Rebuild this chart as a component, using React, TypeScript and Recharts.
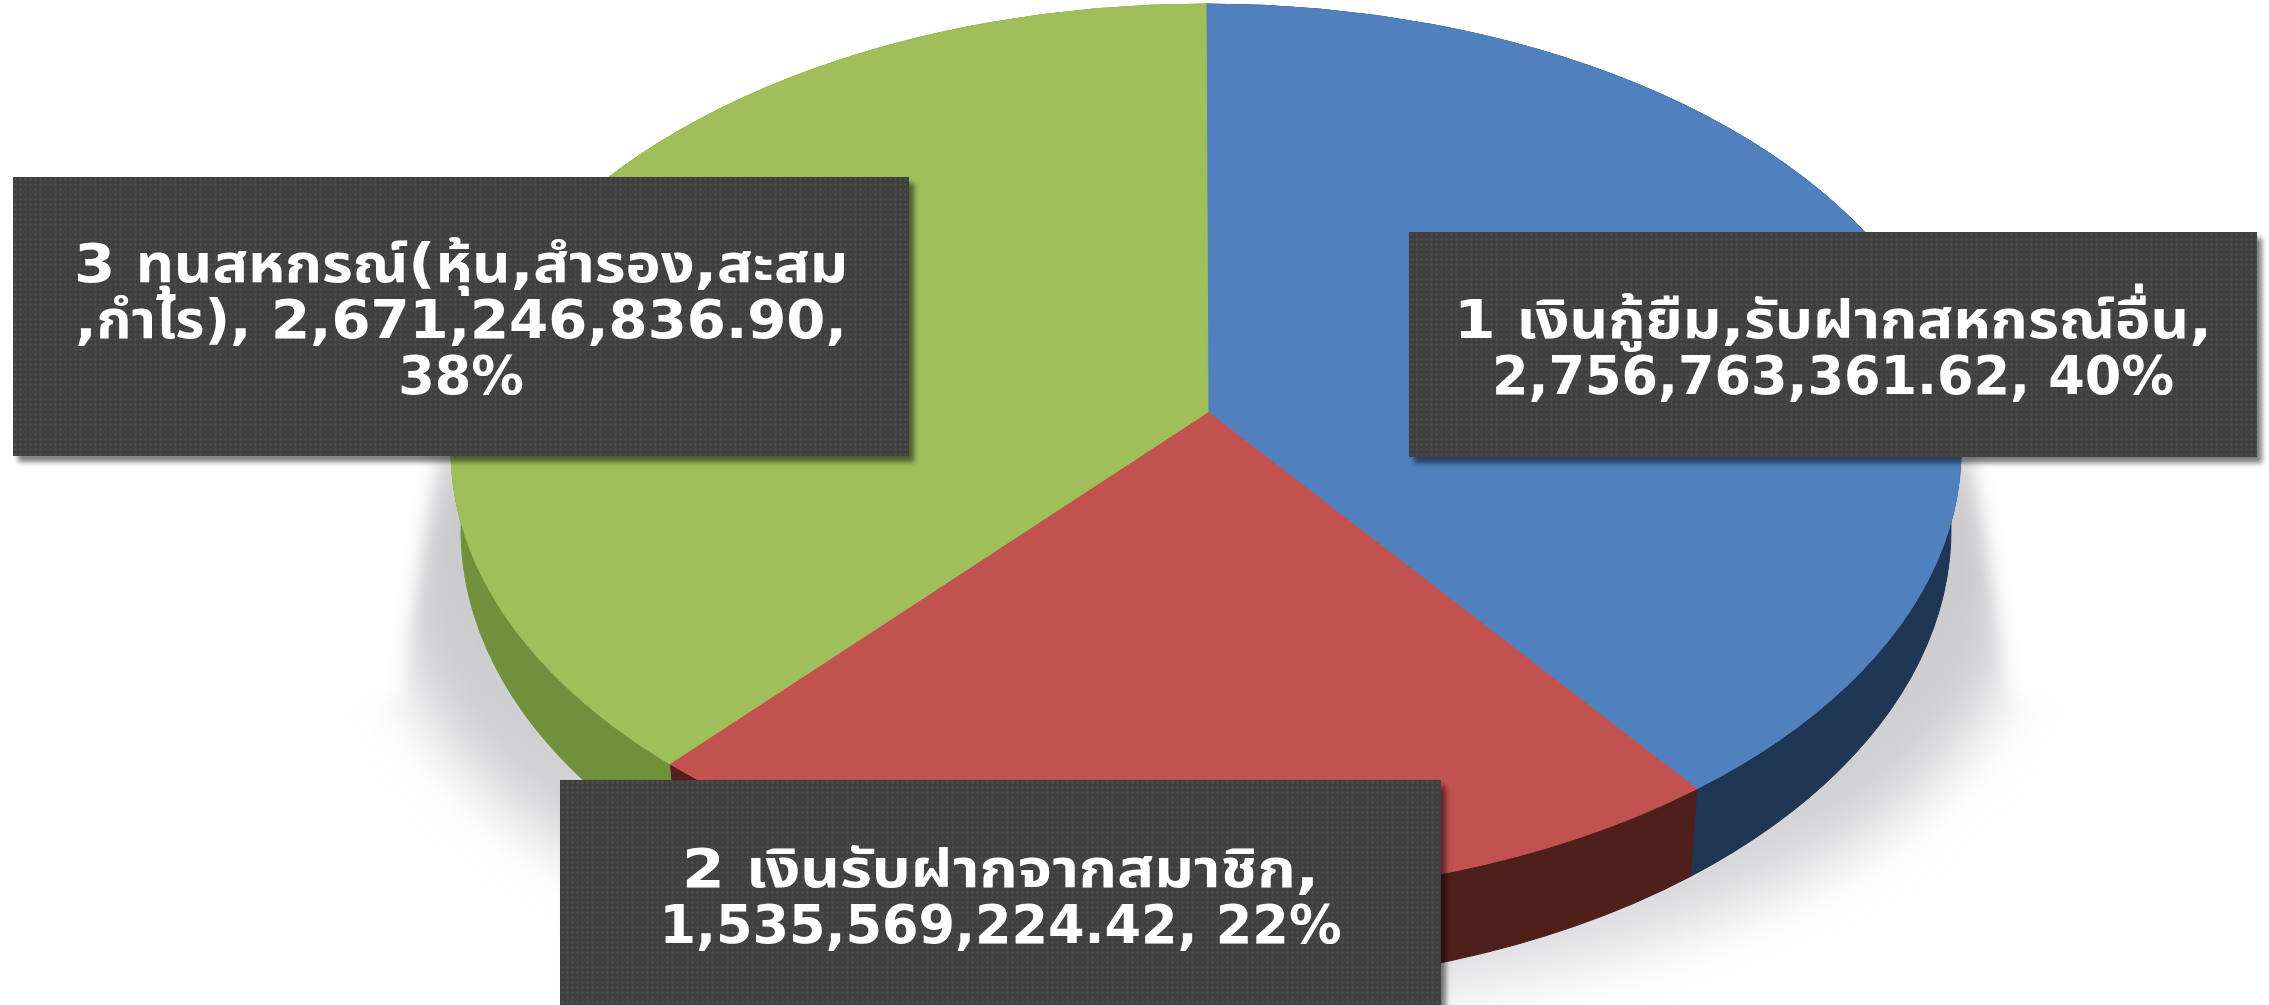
import { Pie, PieChart } from "recharts";

const WIDTH = 2269;
const HEIGHT = 1005;

const categories = [
  "1 เงินกู้ยืม,รับฝากสหกรณ์อื่น",
  "2 เงินรับฝากจากสมาชิก",
  "3 ทุนสหกรณ์(หุ้น,สำรอง,สะสม ,กำไร)",
];
const values = [2756763361.62, 1535569224.42, 2671246836.9];
const topColors = ["#5080be", "#c2524f", "#9fbf5b"];
const sideColors = ["#1f3654", "#4f1f1c", "#71903c"];

const total = values.reduce((a, b) => a + b, 0);
const money = (v: number) =>
  v.toLocaleString("en-US", { minimumFractionDigits: 2, maximumFractionDigits: 2 });
const pct = (v: number) => `${Math.round((v / total) * 100)}%`;

const topData = categories.map((name, i) => ({ name, value: values[i], fill: topColors[i] }));
const sideData = categories.map((name, i) => ({ name, value: values[i], fill: sideColors[i] }));

const labelLines = [
  [`${categories[0]},`, `${money(values[0])}, ${pct(values[0])}`],
  [`${categories[1]},`, `${money(values[1])}, ${pct(values[1])}`],
  ["3 ทุนสหกรณ์(หุ้น,สำรอง,สะสม", `,กำไร), ${money(values[2])},`, pct(values[2])],
];
// the Thai runs are wider in the reference than in the fallback font
const lineStretch = [
  [1.14, 1],
  [1.17, 1],
  [1.13, 1.07, 1],
];
const labelBoxes = [
  { left: 1409, top: 232, width: 848, height: 225, textTop: 60 },
  { left: 560, top: 780, width: 881, height: 240, textTop: 61 },
  { left: 13, top: 177, width: 896, height: 279, textTop: 59 },
];

// the picture is a tilted pie, so everything is squashed to an ellipse
const CX = 1206;
const CY = 450;
const RX = 755;
const SQUASH = 446 / 755;
const APEX_LIFT = 38;
const DEPTH = 80;
const BOTTOM_RX = 745 / 755;
const BOTTOM_SQUASH = 456 / 755;
// perspective: the centre of the pie sits above the centre of the ellipse
const TILT = APEX_LIFT / 446;

const toPoint = (cx: number, cy: number, rx: number, ry: number, deg: number) => {
  const a = (deg * Math.PI) / 180;
  const u = Math.cos(a);
  const v = Math.sin(a);
  const k = 1 + TILT * v;
  return [cx + (rx * u * Math.sqrt(1 - TILT * TILT)) / k, cy - (ry * (v + TILT)) / k];
};

function TopSector(props: any) {
  const { cx, cy, outerRadius, startAngle, endAngle, fill } = props;
  const ry = outerRadius * SQUASH;
  const [x1, y1] = toPoint(cx, cy, outerRadius, ry, startAngle);
  const [x2, y2] = toPoint(cx, cy, outerRadius, ry, endAngle);
  const large = Math.abs(endAngle - startAngle) > 180 ? 1 : 0;
  const d = `M${cx + 2},${cy - APEX_LIFT}L${x1},${y1}A${outerRadius},${ry} 0 ${large} 1 ${x2},${y2}Z`;
  return <path d={d} fill={fill} stroke={fill} strokeWidth={1} />;
}

function SideSector(props: any) {
  const { cx, cy, outerRadius, startAngle, endAngle, fill } = props;
  const ry = outerRadius * SQUASH;
  const rx2 = outerRadius * BOTTOM_RX;
  const ry2 = outerRadius * BOTTOM_SQUASH;
  const [x1, y1] = toPoint(cx, cy, outerRadius, ry, startAngle);
  const [x2, y2] = toPoint(cx, cy, outerRadius, ry, endAngle);
  const [x3, y3] = toPoint(cx, cy + DEPTH, rx2, ry2, endAngle);
  const [x4, y4] = toPoint(cx, cy + DEPTH, rx2, ry2, startAngle);
  const large = Math.abs(endAngle - startAngle) > 180 ? 1 : 0;
  const d =
    `M${x1},${y1}A${outerRadius},${ry} 0 ${large} 1 ${x2},${y2}` +
    `L${x3},${y3}A${rx2},${ry2} 0 ${large} 0 ${x4},${y4}Z`;
  return <path d={d} fill={fill} stroke={fill} strokeWidth={1} />;
}

function Shadow() {
  return (
    <svg width={WIDTH} height={HEIGHT} style={{ position: "absolute", left: 0, top: 0 }}>
      <defs>
        <filter id="soft" x="-20%" y="-20%" width="140%" height="140%">
          <feGaussianBlur stdDeviation="30" />
        </filter>
        <filter id="side" x="-20%" y="-20%" width="140%" height="140%">
          <feGaussianBlur stdDeviation="9" />
        </filter>
        <linearGradient id="fade" x1="0" y1="0" x2="0" y2="1">
          <stop offset="0.35" stopColor="#c8c8cc" />
          <stop offset="0.75" stopColor="#d2d2d5" />
          <stop offset="1" stopColor="#e2e2e4" />
        </linearGradient>
      </defs>
      <ellipse cx={1206} cy={590} rx={815} ry={420} fill="url(#fade)" filter="url(#soft)" />
      <path d="M200,430L440,430L398,700L200,700Z" fill="#fff" filter="url(#side)" />
      <path d="M2200,430L1970,430L2012,700L2200,700Z" fill="#fff" filter="url(#side)" />
    </svg>
  );
}

export default function App() {
  return (
    <div
      style={{
        position: "fixed",
        left: 0,
        top: 0,
        width: WIDTH,
        height: HEIGHT,
        overflow: "hidden",
        background: "#fff",
      }}
    >
      <Shadow />
      <div style={{ position: "absolute", left: 0, top: 0 }}>
        <PieChart width={WIDTH} height={HEIGHT} margin={{ top: 0, right: 0, bottom: 0, left: 0 }}>
          <Pie
            data={sideData}
            dataKey="value"
            nameKey="name"
            cx={CX}
            cy={CY}
            outerRadius={RX}
            startAngle={90}
            endAngle={-270}
            shape={SideSector}
            isAnimationActive={false}
          />
          <Pie
            data={topData}
            dataKey="value"
            nameKey="name"
            cx={CX}
            cy={CY}
            outerRadius={RX}
            startAngle={90}
            endAngle={-270}
            shape={TopSector}
            isAnimationActive={false}
          />
        </PieChart>
      </div>
      {labelLines.map((lines, i) => {
        const box = labelBoxes[i];
        return (
          <div
            key={i}
            style={{
              position: "absolute",
              left: box.left,
              top: box.top,
              width: box.width,
              height: box.height,
              boxSizing: "border-box",
              paddingTop: box.textTop,
              backgroundColor: "#404040",
              backgroundImage: "radial-gradient(#4c4c4c 1px, transparent 1.2px)",
              backgroundSize: "5px 5px",
              boxShadow: "5px 6px 5px rgba(0,0,0,0.5)",
              color: "#fff",
              fontFamily: "'DejaVu Sans', Tahoma, 'Noto Sans Thai', 'Noto Sans', sans-serif",
              fontWeight: 700,
              fontSize: 52.5,
              lineHeight: "56px",
              textAlign: "center",
              whiteSpace: "nowrap",
            }}
          >
            {lines.map((line, j) => (
              <div key={j} style={{ transform: `scaleX(${lineStretch[i][j]})` }}>
                {line}
              </div>
            ))}
          </div>
        );
      })}
    </div>
  );
}
